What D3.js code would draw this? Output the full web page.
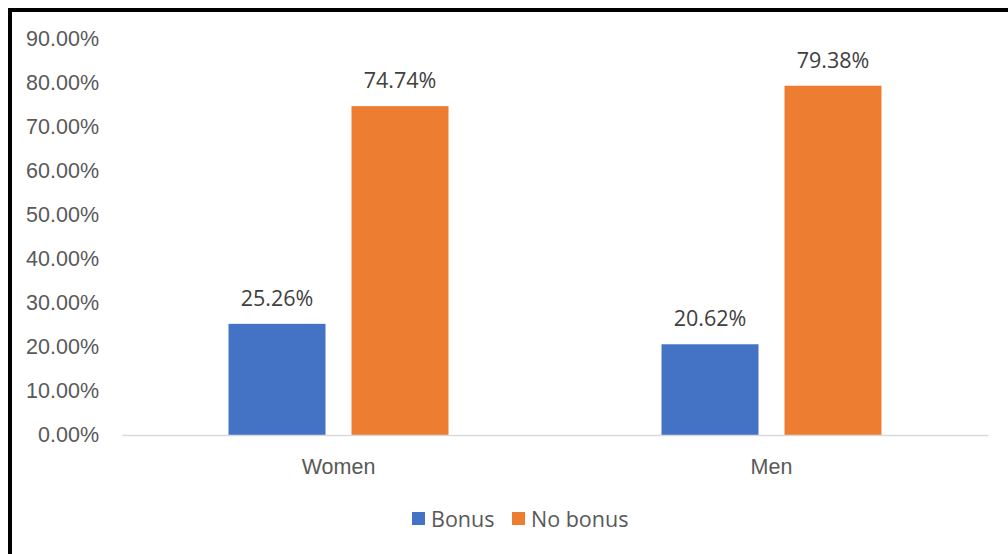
<!DOCTYPE html>
<html>
<head>
<meta charset="utf-8">
<script src="https://cdn.jsdelivr.net/npm/d3@7"></script>
<style>
  body { margin: 0; background: #fff; }
  svg { display: block; font-family: "Open Sans", "Noto Sans", sans-serif; }
</style>
</head>
<body>
<div id="chart"></div>
<script>
const categories = ["Women", "Men"];
const seriesNames = ["Bonus", "No bonus"];
const bonus = [25.26, 20.62];
const noBonus = [74.74, 79.38];
const yTicks = [0, 10, 20, 30, 40, 50, 60, 70, 80, 90];
const colors = ["#4472C4", "#ED7D31"];

const width = 1008;
const height = 554;
const plot = { left: 122, right: 988, top: 39, bottom: 435 };
const fontSize = "21.5px";

const svg = d3.select("#chart")
  .append("svg")
  .attr("width", width)
  .attr("height", height);

svg.append("rect")
  .attr("width", width)
  .attr("height", height)
  .attr("fill", "#fff");

/* outer frame, cut off at the right and bottom like the reference */
svg.append("rect")
  .attr("x", 10)
  .attr("y", 10)
  .attr("width", width + 20)
  .attr("height", height + 20)
  .attr("fill", "none")
  .attr("stroke", "#000")
  .attr("stroke-width", 4);

const rows = categories.map((c, i) => ({
  category: c,
  values: [bonus[i], noBonus[i]],
}));

const y = d3.scaleLinear()
  .domain([0, 90])
  .range([plot.bottom, plot.top]);

const x0 = d3.scaleBand()
  .domain(categories)
  .range([plot.left, plot.right]);

// two bars of ~97px with a ~26px gap centred in each category band
const groupWidth = 220;
const outer = (x0.bandwidth() - groupWidth) / 2;
const x1 = d3.scaleBand()
  .domain(seriesNames)
  .range([outer, outer + groupWidth])
  .paddingInner(26 / 123);

/* y axis labels, no line, no ticks */
const yAxis = svg.append("g")
  .attr("transform", `translate(${plot.left - 23},0)`)
  .call(d3.axisLeft(y).tickValues(yTicks).tickSize(0).tickPadding(0)
    .tickFormat((d) => d3.format(".2f")(d) + "%"));
yAxis.select(".domain").remove();
yAxis.selectAll("text")
  .attr("fill", "#595959")
  .style("font-size", fontSize)
  .style("font-family", "inherit");

/* bars */
const groups = svg.append("g")
  .selectAll("g")
  .data(rows)
  .join("g")
  .attr("transform", (d) => `translate(${x0(d.category)},0)`);

groups.selectAll("rect")
  .data((d) => d.values.map((v, i) => ({ key: seriesNames[i], value: v, i })))
  .join("rect")
  .attr("x", (d) => x1(d.key))
  .attr("y", (d) => y(d.value))
  .attr("width", x1.bandwidth())
  .attr("height", (d) => y(0) - y(d.value))
  .attr("fill", (d) => colors[d.i]);

groups.selectAll("text.label")
  .data((d) => d.values.map((v, i) => ({ key: seriesNames[i], value: v })))
  .join("text")
  .attr("class", "label")
  .attr("x", (d) => x1(d.key) + x1.bandwidth() / 2)
  .attr("y", (d) => y(d.value) - 18)
  .attr("text-anchor", "middle")
  .attr("fill", "#404040")
  .style("font-size", fontSize)
  .text((d) => d3.format(".2f")(d.value) + "%");

/* x axis */
const xAxis = svg.append("g")
  .attr("transform", `translate(0,${plot.bottom})`)
  .call(d3.axisBottom(x0).tickSize(0).tickPadding(24));
xAxis.select(".domain")
  .attr("stroke", "#D9D9D9")
  .attr("stroke-width", 1.5);
xAxis.selectAll("text")
  .attr("fill", "#595959")
  .style("font-size", fontSize)
  .style("font-family", "inherit");

/* legend */
const legendItems = [
  { name: seriesNames[0], x: 412 },
  { name: seriesNames[1], x: 512 },
];
const legend = svg.append("g")
  .selectAll("g")
  .data(legendItems)
  .join("g")
  .attr("transform", (d) => `translate(${d.x},512)`);
legend.append("rect")
  .attr("width", 13)
  .attr("height", 13)
  .attr("fill", (d, i) => colors[i]);
legend.append("text")
  .attr("x", 19)
  .attr("y", 14.5)
  .attr("fill", "#595959")
  .style("font-size", fontSize)
  .text((d) => d.name);
</script>
</body>
</html>
